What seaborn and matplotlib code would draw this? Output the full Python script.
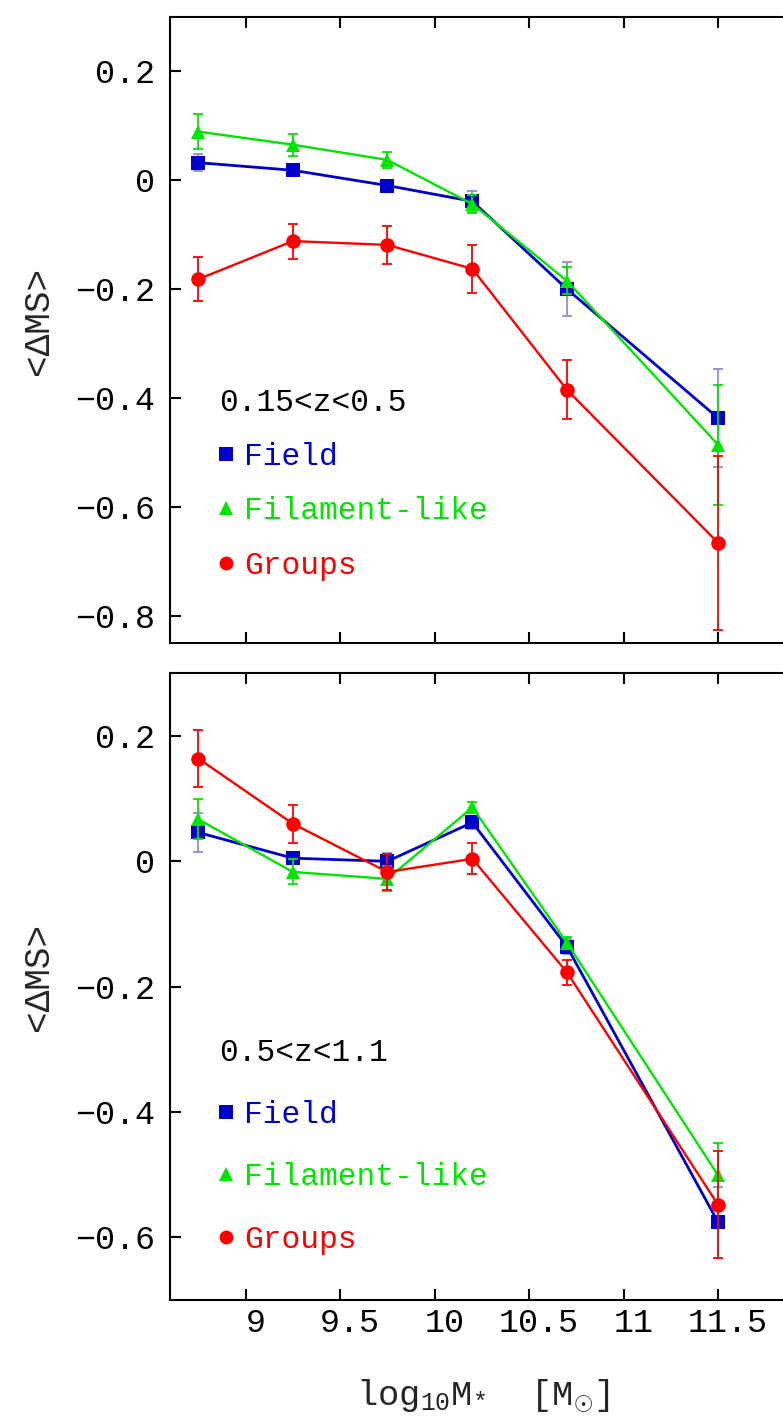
import numpy as np
import pandas as pd
import matplotlib
matplotlib.use("Agg")
import matplotlib.pyplot as plt
from matplotlib.lines import Line2D
from matplotlib.transforms import ScaledTranslation
import seaborn as sns

# ---------------- data ----------------
log_mass = [8.75, 9.25, 9.75, 10.2, 10.7, 11.5]
environments = ["Field", "Filament-like", "Groups"]

# 0.15 < z < 0.5
lowz_field = [0.032, 0.018, -0.010, -0.039, -0.200, -0.437]
lowz_field_err = [0.016, 0.006, 0.006, 0.019, 0.049, 0.090]
lowz_fil = [0.089, 0.065, 0.037, -0.044, -0.185, -0.486]
lowz_fil_err = [0.032, 0.020, 0.014, 0.017, 0.025, 0.110]
lowz_grp = [-0.182, -0.112, -0.119, -0.163, -0.385, -0.666]
lowz_grp_err = [0.040, 0.032, 0.035, 0.044, 0.054, 0.160]

# 0.5 < z < 1.1
highz_field = [0.046, 0.005, 0.000, 0.062, -0.136, -0.576]
highz_field_err = [0.031, 0.010, 0.014, 0.010, 0.012, 0.057]
highz_fil = [0.067, -0.017, -0.028, 0.086, -0.130, -0.501]
highz_fil_err = [0.032, 0.020, 0.020, 0.008, 0.010, 0.052]
highz_grp = [0.164, 0.060, -0.017, 0.004, -0.177, -0.548]
highz_grp_err = [0.045, 0.030, 0.028, 0.025, 0.020, 0.085]

panel_titles = ["0.15<z<0.5", "0.5<z<1.1"]
xtick_vals = [9, 9.5, 10, 10.5, 11, 11.5]
xtick_labels = ["9", "9.5", "10", "10.5", "11", "11.5"]
ytick_top = [-0.8, -0.6, -0.4, -0.2, 0.0, 0.2]
ytick_bot = [-0.6, -0.4, -0.2, 0.0, 0.2]

# ---------------- style ----------------
sns.set_theme(style="ticks")
MONO = "Liberation Mono"
plt.rcParams["font.family"] = [MONO, "DejaVu Sans"]
plt.rcParams["mathtext.fontset"] = "custom"
plt.rcParams["mathtext.rm"] = MONO
plt.rcParams["mathtext.it"] = MONO
plt.rcParams["mathtext.sf"] = MONO
plt.rcParams["mathtext.bf"] = MONO
plt.rcParams["axes.linewidth"] = 1.5

colors = {"Field": "#0000CC", "Filament-like": "#00E600", "Groups": "#FF0000"}
err_colors = {"Field": "#8C8CE6", "Filament-like": "#00E600", "Groups": "#FF0000"}
markers = {"Field": "s", "Filament-like": "^", "Groups": "o"}
lws = {"Field": 2.0, "Filament-like": 1.7, "Groups": 1.7}

FS = 24

W, H = 783, 1418
fig = plt.figure(figsize=(W / 100, H / 100), dpi=100)
fig.patch.set_facecolor("white")

left_px = 170
width_px = 642.6
ax_top = fig.add_axes([left_px / W, 1 - 643 / H, width_px / W, (643 - 16.7) / H])
ax_bot = fig.add_axes([left_px / W, 1 - 1300 / H, width_px / W, (1300 - 673.3) / H])


def fmt(v):
    if abs(v) < 1e-9:
        return "0"
    s = f"{v:.1f}"
    return s.replace("-", "\u2212")


def draw_panel(ax, ys, errs, title, ylim, yticks, leg_y, spacing, show_xlabels):
    rows = []
    for env, yv in zip(environments, ys):
        for xv, v in zip(log_mass, yv):
            rows.append({"logM": xv, "dMS": v, "env": env})
    df = pd.DataFrame(rows)

    for i, env in enumerate(environments):
        ax.errorbar(log_mass, ys[i], yerr=errs[i], fmt="none", ecolor=err_colors[env],
                    elinewidth=1.3, capsize=3.8, capthick=1.3, zorder=2 + i)
        sub = df[df["env"] == env]
        sns.lineplot(data=sub, x="logM", y="dMS", color=colors[env], marker=markers[env],
                     markersize=10.5, markeredgewidth=0, linewidth=lws[env], ax=ax,
                     legend=False, zorder=2.5 + i, estimator=None, sort=False)

    ax.set_xlim(8.6, 12.0)
    ax.set_ylim(*ylim)
    ax.set_xticks(xtick_vals)
    ax.set_yticks(yticks)
    ax.set_yticklabels([fmt(v) for v in yticks])
    ax.tick_params(axis="both", direction="in", length=8, width=1.5, top=True, right=True,
                   labelsize=FS, colors="black")
    ax.tick_params(axis="y", pad=11)
    ax.tick_params(axis="x", pad=6)
    if show_xlabels:
        ax.set_xticklabels(xtick_labels)
        off = ScaledTranslation(10 / 100, 0, fig.dpi_scale_trans)
        for lab in ax.get_xticklabels():
            lab.set_transform(lab.get_transform() + off)
        ax.set_xlabel(r"log$_{10}$M$_{*}$  [M$_{\odot}$]", fontsize=FS + 1.5)
        ax.xaxis.set_label_coords(0.487, -0.124)
    else:
        ax.tick_params(axis="x", labelbottom=False)
        ax.set_xlabel("")
    ax.set_ylabel("<\u0394MS>", fontsize=FS + 2, family=[MONO, "DejaVu Sans"])
    ax.yaxis.set_label_coords(-0.178, 0.515)
    for s in ax.spines.values():
        s.set_linewidth(1.5)
        s.set_color("black")
    ax.set_facecolor("white")

    handles = [Line2D([], [], ls="none", marker=markers[e], color=colors[e],
                      markersize=10, markeredgewidth=0) for e in environments]
    leg = ax.legend(handles, environments, loc="upper left",
                    bbox_to_anchor=(8.86, leg_y), bbox_transform=ax.transData,
                    frameon=False, prop={"family": MONO, "size": FS - 1.5},
                    labelcolor=[colors[e] for e in environments],
                    title=title, title_fontproperties={"family": MONO, "size": FS - 1.5},
                    alignment="left", handlelength=0.45, handletextpad=0.35,
                    borderpad=0.0, borderaxespad=0.0, labelspacing=spacing,
                    numpoints=1)
    leg.get_title().set_color("black")


draw_panel(ax_top, [lowz_field, lowz_fil, lowz_grp], [lowz_field_err, lowz_fil_err, lowz_grp_err],
           panel_titles[0], (-0.85, 0.3), ytick_top, -0.381, 0.78, False)
draw_panel(ax_bot, [highz_field, highz_fil, highz_grp], [highz_field_err, highz_fil_err, highz_grp_err],
           panel_titles[1], (-0.7, 0.3), ytick_bot, -0.282, 1.03, True)

fig.savefig("out.png", dpi=100, facecolor="white")
